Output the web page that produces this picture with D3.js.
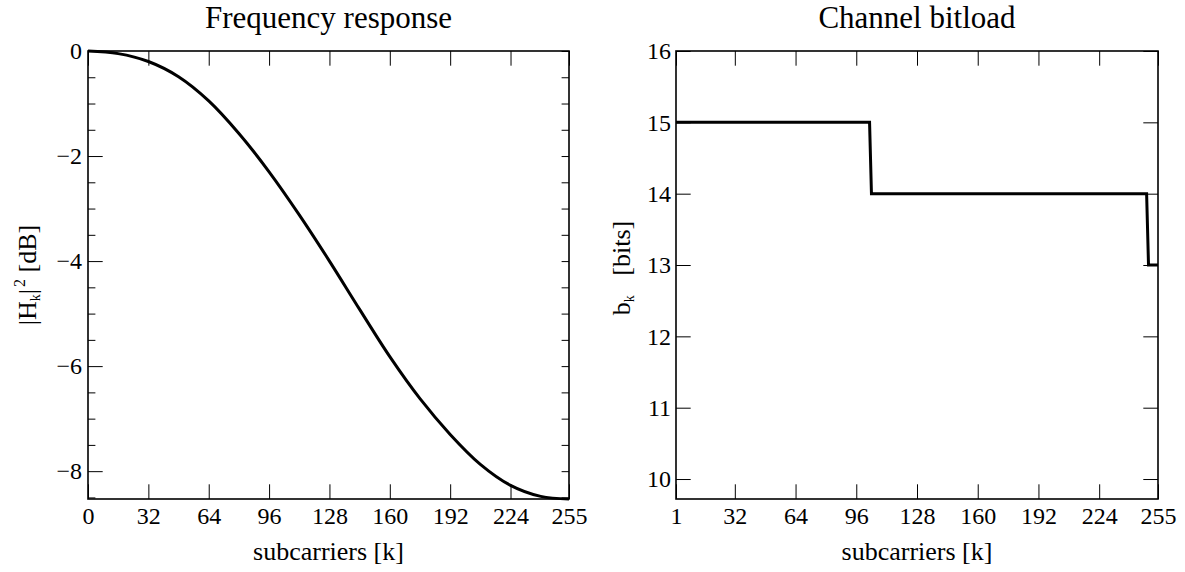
<!DOCTYPE html>
<html><head><meta charset="utf-8">
<script src="https://cdn.jsdelivr.net/npm/d3@7"></script>
<style>
body{margin:0;background:#fff}
svg{display:block}
</style>
</head><body>
<svg id="c" width="1185" height="572"></svg>
<script>
// ---- data ----
const freqK  = [0,16,32,48,64,80,96,112,128,144,160,176,192,208,224,240,255];
const freqDb = [0,-0.05,-0.2,-0.49,-0.95,-1.57,-2.3,-3.12,-4.0,-4.92,-5.82,-6.62,-7.3,-7.87,-8.27,-8.48,-8.53];
const freqXTicks = [0,32,64,96,128,160,192,224,255];
const freqYMajor = [0,-2,-4,-6,-8];
const freqYMinor = [0,-0.5,-1,-1.5,-2,-2.5,-3,-3.5,-4,-4.5,-5,-5.5,-6,-6.5,-7,-7.5,-8,-8.5];

const bitK    = [1,103,104,249,250,255];
const bitVals = [15,15,14,14,13,13];
const bitXTicks = [1,32,64,96,128,160,192,224,255];
const bitYTicks = [10,11,12,13,14,15,16];

const titles = ["Frequency response","Channel bitload"];
const xLabel = "subcarriers [k]";

// ---- layout ----
const FONT = "'Liberation Serif','DejaVu Serif','Noto Serif',serif";
const svg = d3.select("#c").attr("font-family", FONT);
const TOP = 51, BOT = 499;
const P1 = {l:88, r:569};
const P2 = {l:676, r:1158};
const LONG = 14.7, SHORT = 7.4;

function styleAxis(g){
  g.attr("font-family", FONT).attr("font-size", 24);
  g.select(".domain").remove();
  g.selectAll(".tick line").attr("stroke","#000").attr("stroke-width",1);
  g.selectAll(".tick text").attr("fill","#000").style("font-family",FONT).style("font-size","24px");
}

function box(x0,x1){
  svg.append("rect").attr("x",x0).attr("y",TOP).attr("width",x1-x0).attr("height",BOT-TOP)
    .attr("fill","none").attr("stroke","#000").attr("stroke-width",1.6);
}

function xAxes(x, ticks){
  svg.append("g").attr("transform",`translate(0,${BOT})`)
    .call(d3.axisBottom(x).tickValues(ticks).tickSize(-LONG).tickPadding(7.5).tickFormat(d3.format("d")))
    .call(styleAxis);
  svg.append("g").attr("transform",`translate(0,${TOP})`)
    .call(d3.axisTop(x).tickValues(ticks).tickSize(-LONG).tickFormat(""))
    .call(styleAxis);
}

function label(sel, size){
  return sel.style("font-family",FONT).style("font-size",(size||26)+"px").attr("fill","#000");
}

function title(x0,x1,t){
  label(svg.append("text"),31).attr("x",(x0+x1)/2).attr("y",28).attr("text-anchor","middle").text(t);
  label(svg.append("text"),26).attr("x",(x0+x1)/2).attr("y",560).attr("text-anchor","middle").text(xLabel);
}

// ---- plot 1 ----
const x1 = d3.scaleLinear().domain([0,255]).range([P1.l,P1.r]);
const y1 = d3.scaleLinear().domain([d3.min(freqDb),0]).range([BOT,TOP]);

xAxes(x1, freqXTicks);
svg.append("g").attr("transform",`translate(${P1.l},0)`)
  .call(d3.axisLeft(y1).tickValues(freqYMinor.filter(v=>!freqYMajor.includes(v))).tickSize(-SHORT).tickFormat(""))
  .call(styleAxis);
svg.append("g").attr("transform",`translate(${P1.l},0)`)
  .call(d3.axisLeft(y1).tickValues(freqYMajor).tickSize(-LONG).tickPadding(6).tickFormat(d3.format("d")))
  .call(styleAxis);
svg.append("g").attr("transform",`translate(${P1.r},0)`)
  .call(d3.axisRight(y1).tickValues(freqYMinor).tickSize(-SHORT).tickFormat(""))
  .call(styleAxis);
box(P1.l,P1.r);

svg.append("path").datum(freqK.map((k,i)=>[k,freqDb[i]]))
  .attr("fill","none").attr("stroke","#000").attr("stroke-width",3)
  .attr("d", d3.line().x(d=>x1(d[0])).y(d=>y1(d[1])).curve(d3.curveCatmullRom.alpha(0.5)));

title(P1.l,P1.r,titles[0]);

const yl1 = label(svg.append("text"),26).attr("transform",`translate(36,${(TOP+BOT)/2}) rotate(-90)`)
  .attr("text-anchor","middle");
yl1.append("tspan").text("|H");
yl1.append("tspan").text("k").style("font-size","14px").attr("dy",4);
yl1.append("tspan").text("|").attr("dy",-4);
yl1.append("tspan").text("2").style("font-size","16px").attr("dy",-11).attr("dx",2);
yl1.append("tspan").text("\u00a0[dB]").attr("dy",11);

// ---- plot 2 ----
const x2 = d3.scaleLinear().domain([1,255]).range([P2.l,P2.r]);
const y2 = d3.scaleLinear().domain([9.72,16]).range([BOT,TOP]);

xAxes(x2, bitXTicks);
svg.append("g").attr("transform",`translate(${P2.l},0)`)
  .call(d3.axisLeft(y2).tickValues(bitYTicks).tickSize(-LONG).tickPadding(5).tickFormat(d3.format("d")))
  .call(styleAxis);
svg.append("g").attr("transform",`translate(${P2.r},0)`)
  .call(d3.axisRight(y2).tickValues(bitYTicks).tickSize(-LONG).tickFormat(""))
  .call(styleAxis);
box(P2.l,P2.r);

svg.append("path").datum(bitK.map((k,i)=>[k,bitVals[i]]))
  .attr("fill","none").attr("stroke","#000").attr("stroke-width",3)
  .attr("d", d3.line().x(d=>x2(d[0])).y(d=>y2(d[1])));

title(P2.l,P2.r,titles[1]);

const yl2 = label(svg.append("text"),26).attr("transform",`translate(630,268) rotate(-90)`)
  .attr("text-anchor","middle");
yl2.append("tspan").text("b");
yl2.append("tspan").text("k").style("font-size","14px").attr("dy",4);
yl2.append("tspan").text("\u00a0\u00a0\u00a0[bits]").attr("dy",-4);
</script>
</body></html>
